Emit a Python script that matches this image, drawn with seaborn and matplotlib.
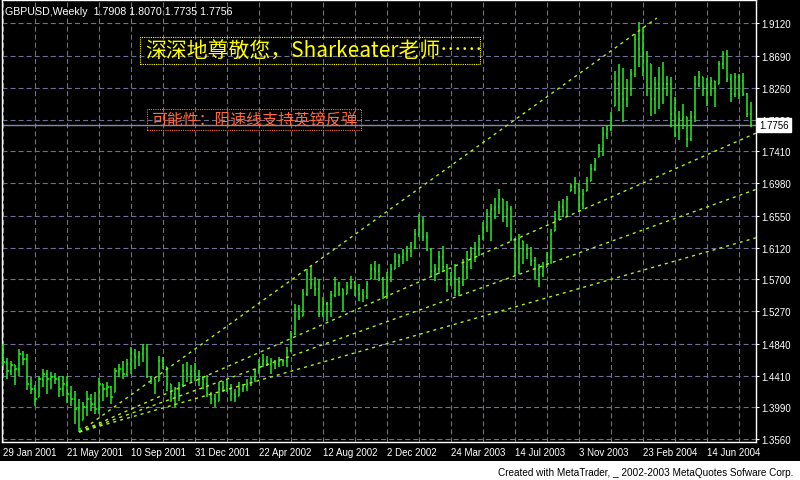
import numpy as np
import pandas as pd
import seaborn as sns
import matplotlib.pyplot as plt
from matplotlib.patches import Rectangle
from matplotlib.transforms import blended_transform_factory

# weekly GBPUSD bars (first bar = week of 29 Jan 2001)
start_date = "2001-01-29"
first_open = 1.4790
highs = [
    1.4834, 1.4647, 1.4607, 1.4554, 1.4767, 1.4741, 1.4701, 1.4393, 1.4286, 1.4406,
    1.4500, 1.4487, 1.4460, 1.4447, 1.4406, 1.4406, 1.4406, 1.4273, 1.4206, 1.4099,
    1.4059, 1.4206, 1.4166, 1.4193, 1.4380, 1.4299, 1.4326, 1.4273, 1.4514, 1.4567,
    1.4607, 1.4634, 1.4794, 1.4767, 1.4741, 1.4834, 1.4834, 1.4406, 1.4366, 1.4674,
    1.4661, 1.4527, 1.4299, 1.4259, 1.4326, 1.4567, 1.4594, 1.4554, 1.4580, 1.4487,
    1.4406, 1.4420, 1.4193, 1.4166, 1.4326, 1.4340, 1.4366, 1.4299, 1.4233, 1.4326,
    1.4299, 1.4366, 1.4406, 1.4500, 1.4634, 1.4701, 1.4674, 1.4647, 1.4620, 1.4661,
    1.4634, 1.4794, 1.5008, 1.5369, 1.5356, 1.5569, 1.5837, 1.5877, 1.5730, 1.5703,
    1.5462, 1.5396, 1.5543, 1.5730, 1.5663, 1.5569, 1.5663, 1.5743, 1.5677, 1.5636,
    1.5569, 1.5677, 1.5904, 1.5944, 1.5904, 1.5730, 1.5796, 1.5903, 1.6050, 1.6037,
    1.6104, 1.6144, 1.6197, 1.6371, 1.6572, 1.6531, 1.6331, 1.6117, 1.5903, 1.6077,
    1.6144, 1.5903, 1.5796, 1.5903, 1.5730, 1.5970, 1.6077, 1.6130, 1.6197, 1.6291,
    1.6465, 1.6638, 1.6705, 1.6785, 1.6906, 1.6772, 1.6745, 1.6678, 1.6237, 1.6304,
    1.6211, 1.6171, 1.6130, 1.5997, 1.5903, 1.5930, 1.6064, 1.6371, 1.6612, 1.6745,
    1.6772, 1.6812, 1.6973, 1.7066, 1.6973, 1.6906, 1.7066, 1.7240, 1.7320, 1.7507,
    1.7734, 1.7748, 1.7935, 1.8483, 1.8576, 1.8523, 1.8376, 1.8509, 1.8977, 1.9138,
    1.9071, 1.8750, 1.8576, 1.8403, 1.8536, 1.8603, 1.8416, 1.8403, 1.8135, 1.7948,
    1.8042, 1.7868, 1.7948, 1.8416, 1.8483, 1.8403, 1.8389, 1.8403, 1.8349, 1.8616,
    1.8750, 1.8763, 1.8443, 1.8456, 1.8443, 1.8456, 1.8189, 1.8070,
]
lows = [
    1.4540, 1.4366, 1.4420, 1.4286, 1.4406, 1.4554, 1.4219, 1.4166, 1.4005, 1.4126,
    1.4259, 1.4166, 1.4233, 1.4299, 1.4126, 1.4139, 1.4046, 1.4005, 1.3765, 1.3658,
    1.3819, 1.3872, 1.3939, 1.3899, 1.3899, 1.4072, 1.4126, 1.4032, 1.4193, 1.4393,
    1.4366, 1.4406, 1.4433, 1.4500, 1.4540, 1.4594, 1.4380, 1.4299, 1.4166, 1.4340,
    1.4500, 1.4206, 1.4059, 1.3992, 1.4072, 1.4259, 1.4326, 1.4326, 1.4340, 1.4273,
    1.4233, 1.4126, 1.4032, 1.3992, 1.4072, 1.4193, 1.4193, 1.4072, 1.4059, 1.4139,
    1.4193, 1.4206, 1.4273, 1.4326, 1.4433, 1.4527, 1.4540, 1.4433, 1.4500, 1.4527,
    1.4540, 1.4527, 1.4727, 1.4954, 1.5155, 1.5209, 1.5476, 1.5569, 1.5476, 1.5195,
    1.5195, 1.5142, 1.5195, 1.5462, 1.5476, 1.5262, 1.5503, 1.5569, 1.5476, 1.5409,
    1.5396, 1.5436, 1.5703, 1.5703, 1.5676, 1.5436, 1.5436, 1.5663, 1.5836, 1.5863,
    1.5903, 1.5943, 1.5997, 1.6104, 1.6264, 1.6211, 1.6077, 1.5743, 1.5676, 1.5770,
    1.5810, 1.5529, 1.5609, 1.5476, 1.5476, 1.5609, 1.5703, 1.5836, 1.5930, 1.6010,
    1.6237, 1.6331, 1.6211, 1.6505, 1.6572, 1.6465, 1.6398, 1.6211, 1.5743, 1.5770,
    1.5903, 1.5970, 1.5876, 1.5703, 1.5596, 1.5730, 1.5863, 1.5903, 1.6344, 1.6505,
    1.6531, 1.6545, 1.6879, 1.6839, 1.6598, 1.6638, 1.6879, 1.7013, 1.7146, 1.7333,
    1.7347, 1.7574, 1.7681, 1.8015, 1.7948, 1.7801, 1.8002, 1.8149, 1.8403, 1.8536,
    1.8416, 1.8149, 1.7881, 1.7908, 1.7975, 1.8042, 1.8149, 1.7734, 1.7601, 1.7561,
    1.7708, 1.7467, 1.7547, 1.7801, 1.8269, 1.8149, 1.8015, 1.8149, 1.8002, 1.8309,
    1.8509, 1.8336, 1.8069, 1.8135, 1.8109, 1.8149, 1.7868, 1.7735,
]
closes = [
    1.4600, 1.4473, 1.4554, 1.4500, 1.4701, 1.4634, 1.4299, 1.4233, 1.4099, 1.4366,
    1.4433, 1.4366, 1.4393, 1.4366, 1.4233, 1.4299, 1.4166, 1.4099, 1.3966, 1.3698,
    1.3992, 1.4099, 1.4032, 1.3966, 1.4299, 1.4233, 1.4259, 1.4126, 1.4473, 1.4500,
    1.4433, 1.4567, 1.4701, 1.4661, 1.4701, 1.4767, 1.4393, 1.4366, 1.4299, 1.4607,
    1.4567, 1.4299, 1.4166, 1.4233, 1.4286, 1.4473, 1.4433, 1.4473, 1.4433, 1.4366,
    1.4299, 1.4166, 1.4099, 1.4072, 1.4233, 1.4259, 1.4233, 1.4166, 1.4126, 1.4233,
    1.4259, 1.4299, 1.4366, 1.4473, 1.4567, 1.4607, 1.4567, 1.4607, 1.4567, 1.4607,
    1.4607, 1.4741, 1.4968, 1.5302, 1.5195, 1.5503, 1.5770, 1.5636, 1.5569, 1.5235,
    1.5369, 1.5369, 1.5489, 1.5636, 1.5569, 1.5503, 1.5596, 1.5663, 1.5569, 1.5503,
    1.5476, 1.5636, 1.5837, 1.5810, 1.5703, 1.5502, 1.5730, 1.5836, 1.5943, 1.5997,
    1.6037, 1.6077, 1.6130, 1.6304, 1.6478, 1.6264, 1.6104, 1.5810, 1.5836, 1.5997,
    1.5863, 1.5636, 1.5703, 1.5543, 1.5663, 1.5863, 1.5970, 1.6037, 1.6104, 1.6237,
    1.6398, 1.6572, 1.6638, 1.6665, 1.6772, 1.6531, 1.6638, 1.6237, 1.5863, 1.6237,
    1.6104, 1.6037, 1.5943, 1.5836, 1.5770, 1.5863, 1.5997, 1.6304, 1.6505, 1.6665,
    1.6612, 1.6772, 1.6932, 1.7013, 1.6705, 1.6839, 1.7013, 1.7173, 1.7280, 1.7440,
    1.7641, 1.7708, 1.7868, 1.8309, 1.8175, 1.8109, 1.8242, 1.8443, 1.8910, 1.8777,
    1.8710, 1.8616, 1.8109, 1.8309, 1.8242, 1.8309, 1.8309, 1.7908, 1.7774, 1.7841,
    1.7868, 1.7574, 1.7868, 1.8309, 1.8403, 1.8242, 1.8309, 1.8349, 1.8269, 1.8576,
    1.8710, 1.8376, 1.8175, 1.8403, 1.8349, 1.8175, 1.7908, 1.7756,
]

# speed resistance fan: anchor at the June 2001 low
fan_anchor_bar = 19
fan_anchor_price = 1.3658
fan_top_bar = 163.4
fan_top_price = 1.9191
fan_bar = 187.1
fan_prices = [1.7627, 1.6879, 1.6237]

ytick_values = [1.3560, 1.3990, 1.4410, 1.4840, 1.5270, 1.5700, 1.6120,
                1.6550, 1.6980, 1.7410, 1.7830, 1.8260, 1.8690, 1.9120]
header = "GBPUSD,Weekly  1.7908 1.8070 1.7735 1.7756"
last_close = 1.7756
note_1 = "深深地尊敬您，Sharkeater老师……"
note_2 = "可能性：阻速线支持英镑反弹"
credit = "Created with MetaTrader, _ 2002-2003 MetaQuotes Sofware Corp."

bar_color = "#22ee22"
fan_color = "#a8f020"
grid_color = "#6e6e96"

sns.set_theme(style="dark", rc={
    "axes.facecolor": "black",
    "figure.facecolor": "black",
    "savefig.facecolor": "black",
    "axes.edgecolor": "white",
    "lines.scale_dashes": False,
})
plt.rcParams["font.family"] = ["Liberation Sans", "DejaVu Sans"]

n = len(closes)
x = np.arange(n)
opens = np.clip([first_open] + closes[:-1], lows, highs)
dates = pd.date_range(start_date, periods=n, freq="W-MON")

fig = plt.figure(figsize=(8, 4.81), dpi=100)
ax = fig.add_axes([2 / 800, 38 / 481, 754 / 800, 442 / 481])
ax.set_facecolor("black")

# OHLC bars
ax.vlines(x, lows, highs, color=bar_color, lw=1.1, zorder=3)
ax.hlines(opens, x - 0.3, x, color=bar_color, lw=1.1, zorder=3)
ax.hlines(closes, x, x + 0.3, color=bar_color, lw=1.1, zorder=3)

x_right = 188.2
fan_rows = [{"line": 0, "bar": fan_anchor_bar, "price": fan_anchor_price},
            {"line": 0, "bar": fan_top_bar, "price": fan_top_price}]
for k, p in enumerate(fan_prices, start=1):
    p_end = fan_anchor_price + (p - fan_anchor_price) * (x_right - fan_anchor_bar) / (fan_bar - fan_anchor_bar)
    fan_rows.append({"line": k, "bar": fan_anchor_bar, "price": fan_anchor_price})
    fan_rows.append({"line": k, "bar": x_right, "price": p_end})
fan_df = pd.DataFrame(fan_rows)
sns.lineplot(data=fan_df, x="bar", y="price", units="line", estimator=None,
             color=fan_color, lw=1.0, linestyle=(0, (2.2, 2.9)), ax=ax, zorder=4)

# last price line
ax.axhline(last_close, color="#8888aa", lw=1.0, zorder=2)

ax.set_xlim(-0.33, x_right)
ax.set_ylim(1.3524, 1.9432)
ax.set_xlabel("")
ax.set_ylabel("")

major = list(range(0, n, 16))
ax.set_xticks(major)
ax.set_xticks(list(range(8, n, 16)), minor=True)
ax.set_xticklabels([f"{dates[i].day} {dates[i].strftime('%b %Y')}" for i in major], ha="left")
ax.yaxis.tick_right()
ax.set_yticks(ytick_values)
ax.set_yticklabels([f"{v:.4f}" for v in ytick_values])
ax.tick_params(axis="both", which="major", colors="white", labelcolor="white",
               labelsize=7, length=2.4, width=0.8, direction="out", pad=1.5)
ax.tick_params(axis="x", which="minor", length=0)

gl = dict(color=grid_color, lw=0.8, linestyle=(0, (3.6, 2.2)))
ax.grid(True, which="major", axis="both", **gl)
ax.grid(True, which="minor", axis="x", **gl)
ax.set_axisbelow(True)
for s in ax.spines.values():
    s.set_color("white")
    s.set_linewidth(1.0)
    s.set_visible(True)

ax.text(0.004, 0.986, header, transform=ax.transAxes, ha="left", va="top",
        color="white", fontsize=7.7)

# text objects with dotted frames
ax.add_patch(Rectangle((0.1830, 0.8552), 0.4509, 0.0611, transform=ax.transAxes,
                       fill=False, ec="#ffff00", lw=0.8, linestyle=(0, (0.8, 0.8)), zorder=5))
ax.text(0.1897, 0.8857, note_1, transform=ax.transAxes, ha="left", va="center",
        color="#ffff00", fontsize=15, family=["Noto Sans CJK SC", "DejaVu Sans"], zorder=5)
ax.add_patch(Rectangle((0.1923, 0.7059), 0.2838, 0.0475, transform=ax.transAxes,
                       fill=False, ec="#ff6a3a", lw=0.8, linestyle=(0, (0.8, 0.8)), zorder=5))
ax.text(0.1976, 0.7296, note_2, transform=ax.transAxes, ha="left", va="center",
        color="#ff6a3a", fontsize=11.4, family=["Noto Sans CJK SC", "DejaVu Sans"], zorder=5)

# price tag on the scale
tr = blended_transform_factory(ax.transAxes, ax.transData)
ax.text(1.0045, last_close, f"{last_close:.4f}", transform=tr, ha="left", va="center",
        color="black", fontsize=7, clip_on=False, zorder=6,
        bbox=dict(boxstyle="square,pad=0.2", fc="white", ec="white"))

# credit strip
fig.patches.append(Rectangle((0, 0), 1, 19 / 481, transform=fig.transFigure,
                             fc="white", ec="none"))
fig.text(793 / 800, 8 / 481, credit, ha="right", va="center", color="black", fontsize=7.2)

fig.savefig("out.png", dpi=100, facecolor="black")
